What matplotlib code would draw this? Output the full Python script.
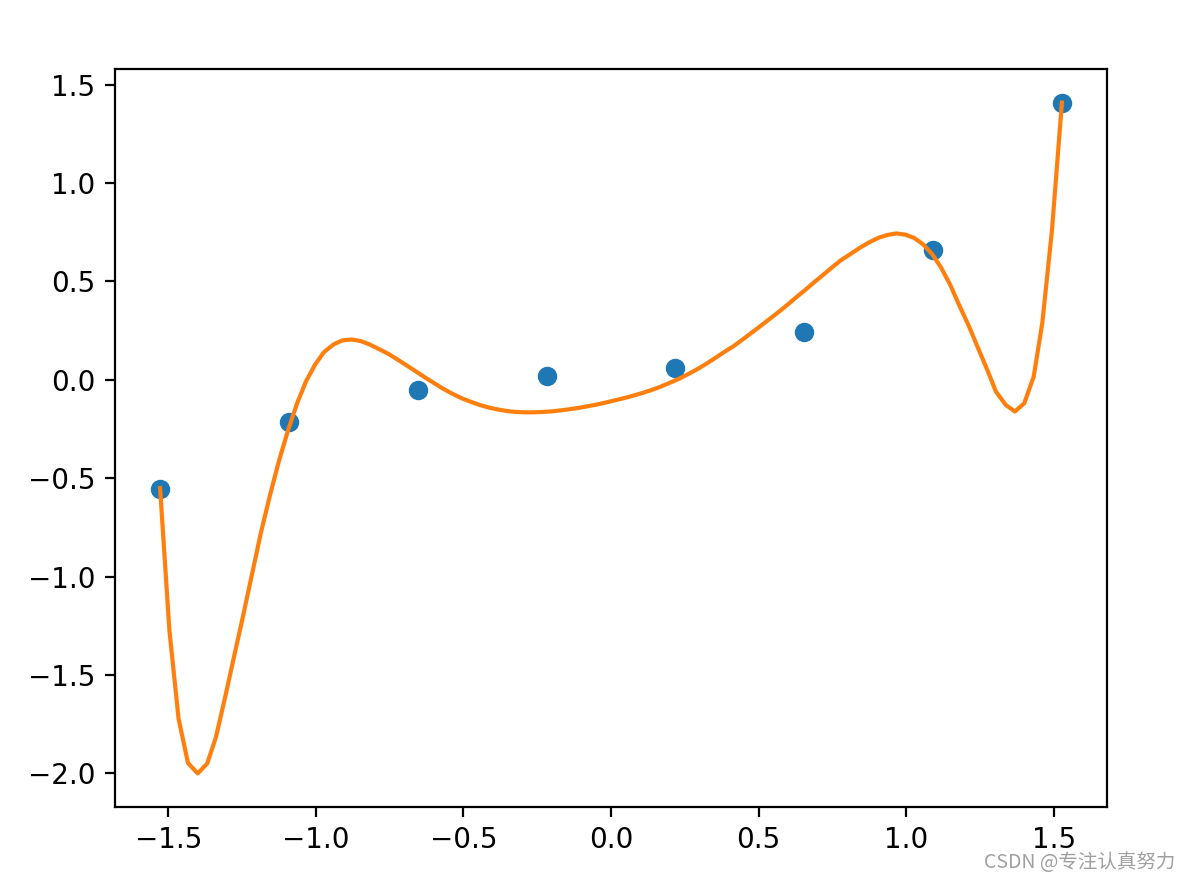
import numpy as np
import matplotlib
matplotlib.use("Agg")
import matplotlib.pyplot as plt

# sample points
x_pts = [-1.5275, -1.0911, -0.6547, -0.2182, 0.2182, 0.6547, 1.0911, 1.5275]
y_pts = [-0.554, -0.214, -0.051, 0.020, 0.061, 0.244, 0.661, 1.409]

# fitted curve
curve_x = [-1.5275, -1.496, -1.465, -1.433, -1.400, -1.368, -1.338, -1.307, -1.277, -1.247,
           -1.216, -1.186, -1.155, -1.125, -1.095, -1.064, -1.034, -1.003, -0.973, -0.939,
           -0.909, -0.878, -0.848, -0.818, -0.787, -0.753, -0.723, -0.693, -0.662, -0.632,
           -0.601, -0.571, -0.541, -0.510, -0.476, -0.446, -0.416, -0.385, -0.355, -0.324,
           -0.294, -0.264, -0.230, -0.199, -0.169, -0.139, -0.108, -0.078, -0.047, -0.017,
           0.014, 0.044, 0.074, 0.108, 0.139, 0.169, 0.199, 0.230, 0.260, 0.291,
           0.321, 0.351, 0.382, 0.416, 0.446, 0.476, 0.507, 0.537, 0.568, 0.598,
           0.628, 0.659, 0.689, 0.720, 0.750, 0.780, 0.814, 0.845, 0.875, 0.905,
           0.936, 0.966, 0.997, 1.027, 1.057, 1.088, 1.118, 1.149, 1.179, 1.213,
           1.243, 1.274, 1.304, 1.337, 1.368, 1.400, 1.432, 1.461, 1.494, 1.5275]
curve_y = [-0.550, -1.272, -1.721, -1.947, -2.000, -1.950, -1.814, -1.611, -1.407, -1.204,
           -0.987, -0.777, -0.585, -0.413, -0.261, -0.122, -0.010, 0.076, 0.140, 0.181,
           0.201, 0.205, 0.197, 0.180, 0.157, 0.131, 0.103, 0.074, 0.044, 0.014,
           -0.015, -0.043, -0.068, -0.091, -0.111, -0.127, -0.140, -0.150, -0.158, -0.163,
           -0.165, -0.165, -0.163, -0.160, -0.155, -0.149, -0.142, -0.134, -0.125, -0.115,
           -0.104, -0.093, -0.081, -0.066, -0.051, -0.034, -0.015, 0.005, 0.028, 0.053,
           0.080, 0.109, 0.140, 0.172, 0.205, 0.239, 0.274, 0.309, 0.345, 0.382,
           0.420, 0.458, 0.497, 0.535, 0.573, 0.609, 0.642, 0.673, 0.699, 0.721,
           0.736, 0.744, 0.738, 0.721, 0.689, 0.639, 0.571, 0.483, 0.381, 0.271,
           0.163, 0.053, -0.060, -0.127, -0.161, -0.119, 0.017, 0.288, 0.763, 1.409]

fig = plt.figure(figsize=(5.94, 4.41), dpi=200)
ax = fig.add_axes([115/1188, 75/882, 992/1188, 738/882])

ax.scatter(x_pts, y_pts)
ax.plot(curve_x, curve_y, color='C1')

ax.set_yticks([-2.0, -1.5, -1.0, -0.5, 0.0, 0.5, 1.0, 1.5])

fig.text(0.989, 0.022, 'CSDN @专注认真努力', ha='right', va='center', fontsize=7,
         color='#a0a0a0', family=['Noto Sans CJK SC', 'DejaVu Sans'])

fig.savefig('out.png', dpi=200)
